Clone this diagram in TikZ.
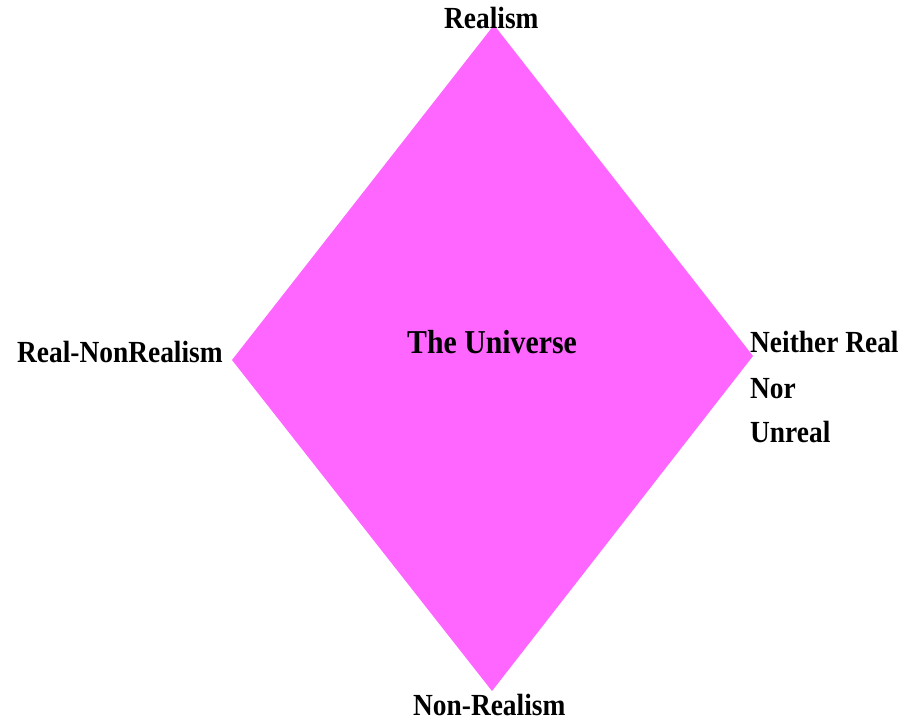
\documentclass[tikz,border=0pt]{standalone}
\usepackage{fontspec}
\usepackage{graphicx}
\setmainfont{Liberation Serif}
\definecolor{diapink}{HTML}{FF66FF}
\newcommand{\tallt}[1]{\scalebox{1}[1.12]{#1}}
\begin{document}
\begin{tikzpicture}[x=1pt,y=-1pt,
  lbl/.style={inner sep=0pt,anchor=base west,font=\fontsize{27.4}{33}\selectfont\bfseries},
  title/.style={inner sep=0pt,anchor=base west,font=\fontsize{29.8}{36}\selectfont\bfseries}]
\useasboundingbox (0,0) rectangle (906,723);
\coordinate (top) at (494,25);
\coordinate (left) at (232,360);
\coordinate (right) at (753,356);
\coordinate (bottom) at (492,691);
\fill[diapink] (top) -- (right) -- (bottom) -- (left) -- cycle;
\node[title] (uni) at (407,353) {\tallt{The Universe}};
\node[lbl] (real) at (444,28) {\tallt{Realism}};
\node[lbl] (rnr) at (17,362) {\tallt{Real-NonRealism}};
\node[lbl] (n1) at (750,352) {\tallt{Neither Real}};
\node[lbl] (n2) at (750,398) {\tallt{Nor}};
\node[lbl] (n3) at (750,442) {\tallt{Unreal}};
\node[lbl] (nr) at (413,715) {\tallt{Non-Realism}};
\end{tikzpicture}
\end{document}
